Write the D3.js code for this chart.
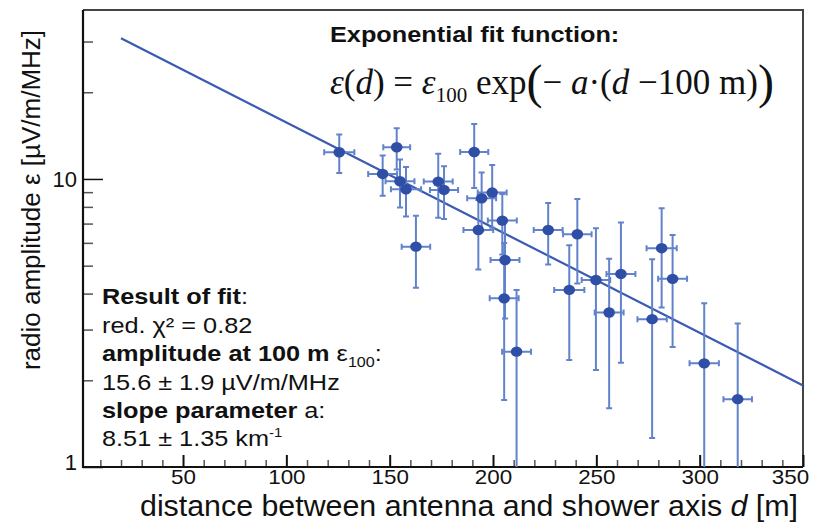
<!DOCTYPE html>
<html><head><meta charset="utf-8">
<script src="https://cdn.jsdelivr.net/npm/d3@7/dist/d3.min.js"></script>
<style>body{margin:0;background:#fff;} svg{display:block;}</style>
</head><body>
<svg id="c" width="818" height="526"></svg>
<script>
// ---- data ----
const distance = [125.6,153.4,146.6,155.0,157.9,162.7,173.5,176.3,190.9,194.5,199.6,192.9,204.5,226.7,205.8,205.4,211.4,240.8,236.9,249.8,256.2,261.9,277.0,281.6,286.9,302.2,318.4];
const amplitude = [12.38,12.89,10.41,9.82,9.21,5.82,9.79,9.16,12.41,8.57,8.97,6.65,7.17,6.65,5.23,3.85,2.515,6.43,4.12,4.46,3.44,4.68,3.26,5.75,4.50,2.29,1.72];
const amplitudeErr = [1.9,2.1,1.66,1.86,1.8,1.63,2.45,1.9,3.1,1.95,2.2,1.8,1.7,1.6,1.95,2.14,1.6,2.09,1.77,2.29,1.84,2.38,2.0,2.17,1.89,1.41,1.43];
const distanceErr = [7.3,6.5,7.0,7.0,7.3,6.9,7.0,6.8,6.8,7.0,7.0,7.2,7.0,7.0,7.0,7.0,7.0,6.9,7.3,6.9,7.0,7.0,7.1,7.3,7.0,7.1,6.9];
const fitLine = [[20,30.8],[350,1.92]];
const xMajorTicks = [50,100,150,200,250,300,350];
const xMinorTicks = [10,20,30,40,60,70,80,90,110,120,130,140,160,170,180,190,210,220,230,240,260,270,280,290,310,320,330,340];
const yMajorTicks = [1,10];
const yMinorTicks = [2,3,4,5,6,7,8,9,20,30];

const svg = d3.select('#c');
const L=83, R=803, T=10, B=467;
const x = d3.scaleLinear().domain([1.6,350]).range([L,R]);
const y = d3.scaleLog().domain([1,38.6]).range([B,T]);

const blue='#2f4ea6', barBlue='#6283cc', lineBlue='#3b5ab3';
const sans='Liberation Sans, Arial, sans-serif';
const serif='Liberation Serif, Times New Roman, serif';

svg.append('defs').append('clipPath').attr('id','clip')
  .append('rect').attr('x',L).attr('y',T).attr('width',R-L).attr('height',B-T);

// frame top/right
svg.append('path').attr('d',`M${L},${T}H${R}V${B}`).attr('fill','none').attr('stroke','#444').attr('stroke-width',2);

// axes
const gxMinor = svg.append('g').attr('transform',`translate(0,${B})`)
  .call(d3.axisBottom(x).tickValues(xMinorTicks).tickSize(-7).tickFormat(''));
const gxMajor = svg.append('g').attr('transform',`translate(0,${B})`)
  .call(d3.axisBottom(x).tickValues(xMajorTicks).tickSize(-12).tickPadding(3).tickFormat(d3.format('d')));
const gyMinor = svg.append('g').attr('transform',`translate(${L},0)`)
  .call(d3.axisLeft(y).tickValues(yMinorTicks).tickSize(-10).tickFormat(''));
const gyMajor = svg.append('g').attr('transform',`translate(${L},0)`)
  .call(d3.axisLeft(y).tickValues(yMajorTicks).tickSize(-20).tickPadding(6).tickFormat(d3.format('d')));
[gxMinor,gxMajor,gyMinor,gyMajor].forEach(g=>{g.select('.domain').remove();});
gxMinor.selectAll('line').attr('stroke','#555').attr('stroke-width',1.5);
gyMinor.selectAll('line').attr('stroke','#555').attr('stroke-width',1.5);
gxMajor.selectAll('line').attr('stroke','#111').attr('stroke-width',2);
gyMajor.selectAll('line').attr('stroke','#111').attr('stroke-width',1.5);
gxMajor.selectAll('text').attr('font-family',sans).attr('font-size',20).attr('fill','#111')
  .attr('transform',d=> d===350 ? 'translate(-13,0) scale(1.12,1)' : 'scale(1.12,1)');
gyMajor.selectAll('text').attr('font-family',sans).attr('font-size',22).attr('fill','#111').attr('dy','0.35em');
gyMajor.selectAll('.tick').filter(d=>d===1).select('text').attr('dy','0.1em');

// axis lines
svg.append('path').attr('d',`M${L},${T}V${B}H${R}`).attr('fill','none').attr('stroke','#111').attr('stroke-width',2.2);

// fit line
svg.append('path').datum(fitLine).attr('d',d3.line().x(d=>x(d[0])).y(d=>y(d[1])))
  .attr('fill','none').attr('stroke',lineBlue).attr('stroke-width',2.2);

// data
const pts = distance.map((d,i)=>({d, a:amplitude[i], ea:amplitudeErr[i], ed:distanceErr[i]}));
const gp = svg.append('g').attr('clip-path','url(#clip)');
const cap=3;
pts.forEach(p=>{
  const cx=x(p.d), cy=y(p.a);
  const yt=y(p.a+p.ea), yb=p.a-p.ea>0.5? y(p.a-p.ea): B+20;
  const xl=x(p.d-p.ed), xr=x(p.d+p.ed);
  const g=gp.append('g').attr('stroke',barBlue).attr('stroke-width',2).attr('fill','none');
  g.append('path').attr('d',`M${cx},${yt}V${yb}M${cx-cap},${yt}H${cx+cap}M${cx-cap},${yb}H${cx+cap}`);
  g.append('path').attr('d',`M${xl},${cy}H${xr}M${xl},${cy-cap}V${cy+cap}M${xr},${cy-cap}V${cy+cap}`);
});
gp.selectAll('ellipse').data(pts).join('ellipse')
  .attr('cx',p=>x(p.d)).attr('cy',p=>y(p.a)).attr('rx',5.8).attr('ry',5.2).attr('fill',blue);

// axis titles
const xt = svg.append('text').attr('transform','translate(140,516)')
  .attr('font-family',sans).attr('font-size',30).attr('fill','#111')
  .attr('textLength',658).attr('lengthAdjust','spacingAndGlyphs');
xt.append('tspan').text('distance between antenna and shower axis ');
xt.append('tspan').attr('font-style','italic').text('d');
xt.append('tspan').text(' [m]');

svg.append('text').attr('transform','translate(40,200) rotate(-90)').attr('text-anchor','middle')
  .attr('font-family',sans).attr('font-size',26).attr('fill','#111')
  .text('radio amplitude \u03b5  [\u00b5V/m/MHz]');

// fit function title
svg.append('text').attr('transform','translate(330,42) scale(1.15,1)')
  .attr('font-family',sans).attr('font-size',22).attr('font-weight','bold').attr('fill','#111')
  .text('Exponential fit function:');

const f = svg.append('text').attr('transform','translate(330,94)').attr('font-family',serif).attr('font-size',35).attr('fill','#111');
f.append('tspan').attr('font-style','italic').text('\u03b5');
f.append('tspan').text('(');
f.append('tspan').attr('font-style','italic').text('d');
f.append('tspan').text(') = ');
f.append('tspan').attr('font-style','italic').text('\u03b5');
f.append('tspan').attr('font-size',21).attr('dy',8).text('100');
f.append('tspan').attr('dy',-8).text(' exp');
f.append('tspan').attr('font-size',48).attr('dy',4).text('(');
f.append('tspan').attr('dy',-4).text('\u2212 ');
f.append('tspan').attr('font-style','italic').text('a');
f.append('tspan').text('\u00b7(');
f.append('tspan').attr('font-style','italic').text('d');
f.append('tspan').text(' \u2212100 m)');
f.append('tspan').attr('font-size',48).attr('dy',4).text(')');

// result block
const lines = [
  {y:304, parts:[{t:'Result of fit',b:1},{t:':'}]},
  {y:333, parts:[{t:'red. \u03c7\u00b2 = 0.82'}]},
  {y:361, parts:[{t:'amplitude at 100 m ',b:1},{t:'\u03b5'},{t:'100',sub:1},{t:':',back:1}]},
  {y:390, parts:[{t:'15.6  \u00b1 1.9 \u00b5V/m/MHz'}]},
  {y:418, parts:[{t:'slope parameter',b:1},{t:' a:'}]},
  {y:446, parts:[{t:'8.51 \u00b1 1.35 km'},{t:'-1',sup:1}]}
];
lines.forEach(l=>{
  const t=svg.append('text').attr('transform',`translate(102,${l.y}) scale(1.15,1)`)
    .attr('font-family',sans).attr('font-size',22).attr('fill','#111');
  l.parts.forEach(p=>{
    const s=t.append('tspan').text(p.t);
    if(p.b) s.attr('font-weight','bold');
    if(p.sub){ s.attr('font-size',14).attr('dy',6); }
    if(p.back){ s.attr('dy',-6); }
    if(p.sup){ s.attr('font-size',13).attr('dy',-9); }
  });
});
</script>
</body></html>
